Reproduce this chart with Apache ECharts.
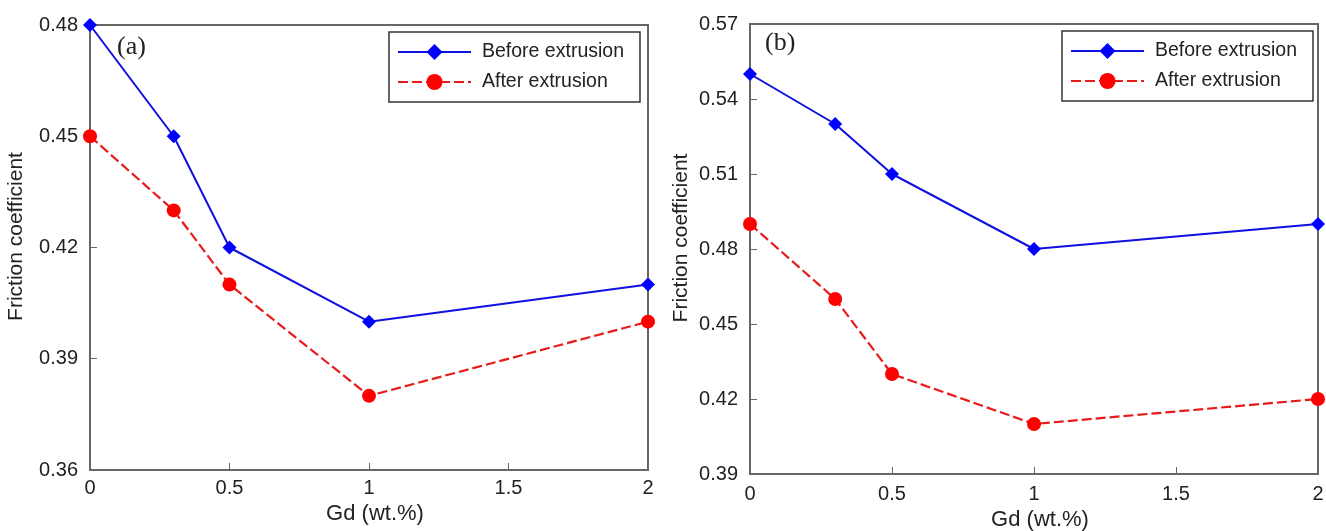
<!DOCTYPE html>
<html><head><meta charset="utf-8">
<script src="https://cdn.jsdelivr.net/npm/echarts@6/dist/echarts.min.js"></script>
<style>html,body{margin:0;padding:0;background:#fff}#c{width:1326px;height:531px}</style>
</head><body><div id="c"></div>
<script>
const gdX = [0, 0.3, 0.5, 1, 2];
const aBefore = [0.48, 0.45, 0.42, 0.40, 0.41];
const aAfter = [0.45, 0.43, 0.41, 0.38, 0.40];
const bBefore = [0.55, 0.53, 0.51, 0.48, 0.49];
const bAfter = [0.49, 0.46, 0.43, 0.41, 0.42];
const xTicks = [0, 0.5, 1, 1.5, 2];
const aYTicks = [0.36, 0.39, 0.42, 0.45, 0.48];
const bYTicks = [0.39, 0.42, 0.45, 0.48, 0.51, 0.54, 0.57];
const seriesNames = ['Before extrusion', 'After extrusion'];

const pair = (xs, ys) => xs.map((x, i) => [x, ys[i]]);
const FONT = '"Liberation Sans", Arial, sans-serif';
const SERIF = '"Liberation Serif", "Times New Roman", serif';
const AX = '#666';

function xAxis(gi, labelMargin, nameGap) {
  return {
    type: 'value', gridIndex: gi, min: xTicks[0], max: xTicks[xTicks.length - 1], interval: 0.5,
    name: 'Gd (wt.%)', nameLocation: 'middle', nameGap: nameGap,
    nameTextStyle: {fontFamily: FONT, fontSize: 22, color: '#222', padding: [0, 0, 0, 12]},
    axisLine: {show: true, lineStyle: {color: AX, width: 2}},
    axisTick: {show: true, inside: true, length: 7, lineStyle: {color: AX, width: 1}},
    axisLabel: {fontFamily: FONT, fontSize: 20, color: '#222', margin: labelMargin},
    splitLine: {show: false}
  };
}
function yAxis(gi, ticks, nameGap) {
  return {
    type: 'value', gridIndex: gi, min: ticks[0], max: ticks[ticks.length - 1], interval: 0.03,
    name: 'Friction coefficient', nameLocation: 'middle', nameGap: nameGap,
    nameTextStyle: {fontFamily: FONT, fontSize: 21, color: '#222', padding: [0, 0, 0, 22]},
    axisLine: {show: true, lineStyle: {color: AX, width: 2}},
    axisTick: {show: true, inside: true, length: 7, lineStyle: {color: AX, width: 1}},
    axisLabel: {fontFamily: FONT, fontSize: 20, color: '#222', margin: 12, formatter: v => v.toFixed(2)},
    splitLine: {show: false}
  };
}
function before(gi, ys) {
  return {
    name: seriesNames[0], type: 'line', xAxisIndex: gi, yAxisIndex: gi, data: pair(gdX, ys),
    symbol: 'diamond', symbolSize: 14, clip: false,
    lineStyle: {color: '#1010e0', width: 2}, itemStyle: {color: '#0000ff'}
  };
}
function after(gi, ys) {
  return {
    name: seriesNames[1], type: 'line', xAxisIndex: gi, yAxisIndex: gi, data: pair(gdX, ys),
    symbol: 'circle', symbolSize: 14, clip: false,
    lineStyle: {color: '#e81a1a', width: 2.2, type: [10, 4]}, itemStyle: {color: '#ff0000'}
  };
}
function legend(left, top) {
  return {
    data: seriesNames, orient: 'vertical', left: left, top: top,
    padding: [10, 16, 10, 8], itemGap: 10, itemWidth: 73, itemHeight: 20,
    borderColor: '#333', borderWidth: 1.5, backgroundColor: '#fff',
    textStyle: {fontFamily: FONT, fontSize: 19.5, color: '#222', lineHeight: 20, padding: [0, 0, 0, 6]}
  };
}

const chart = echarts.init(document.getElementById('c'), null, {renderer: 'canvas'});
chart.setOption({
  animation: false,
  backgroundColor: '#fff',
  grid: [
    {left: 90, top: 25, width: 558, height: 445, show: true, borderColor: AX, borderWidth: 2, backgroundColor: 'transparent', outerBoundsMode: 'none', containLabel: false},
    {left: 750, top: 24, width: 568, height: 450, show: true, borderColor: AX, borderWidth: 2, backgroundColor: 'transparent', outerBoundsMode: 'none', containLabel: false}
  ],
  xAxis: [xAxis(0, 8, 28), xAxis(1, 10, 30)],
  yAxis: [yAxis(0, aYTicks, 63), yAxis(1, bYTicks, 58)],
  legend: [legend(389, 32), legend(1062, 31)],
  graphic: [
    {type: 'text', left: 117, top: 34, style: {text: '(a)', fontFamily: SERIF, fontSize: 26, fill: '#222'}},
    {type: 'text', left: 765, top: 30, style: {text: '(b)', fontFamily: SERIF, fontSize: 26, fill: '#222'}}
  ],
  series: [before(0, aBefore), after(0, aAfter), before(1, bBefore), after(1, bAfter)]
});
</script></body></html>
